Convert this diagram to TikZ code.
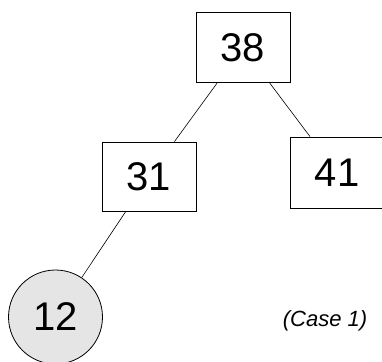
\documentclass[tikz,border=0pt]{standalone}
\usepackage{fontspec}
\setmainfont{Liberation Sans}
\begin{document}
\begin{tikzpicture}[x=1pt,y=-1pt,
  keybox/.style={draw=black, line width=0.8pt, fill=white, minimum width=94pt, inner sep=0pt, font=\fontsize{40}{40}\selectfont},
  newkey/.style={draw=black, line width=0.8pt, circle, fill=black!10, minimum size=94pt, inner sep=0pt, font=\fontsize{40}{40}\selectfont},
  edge/.style={draw=black, line width=0.6pt}]
  \useasboundingbox (0,0) rectangle (382,361);
  \clip (0,0) rectangle (382,361);
  \node[keybox, minimum height=70.5pt] (n38) at (243,47.5) {38};
  \node[keybox, minimum height=71pt] (n41) at (337,172.5) {41};
  \node[keybox, minimum height=69pt] (n31) at (149,176.5) {31};
  \node[newkey] (n12) at (55.5,317) {12};
  \path[edge] (n38) -- (n31);
  \path[edge] (n38) -- (n41);
  \path[edge] (n31) -- (n12);
  \node[font=\fontsize{22}{22}\selectfont\itshape] (cap) at (325,321) {(Case 1)};
\end{tikzpicture}
\end{document}
